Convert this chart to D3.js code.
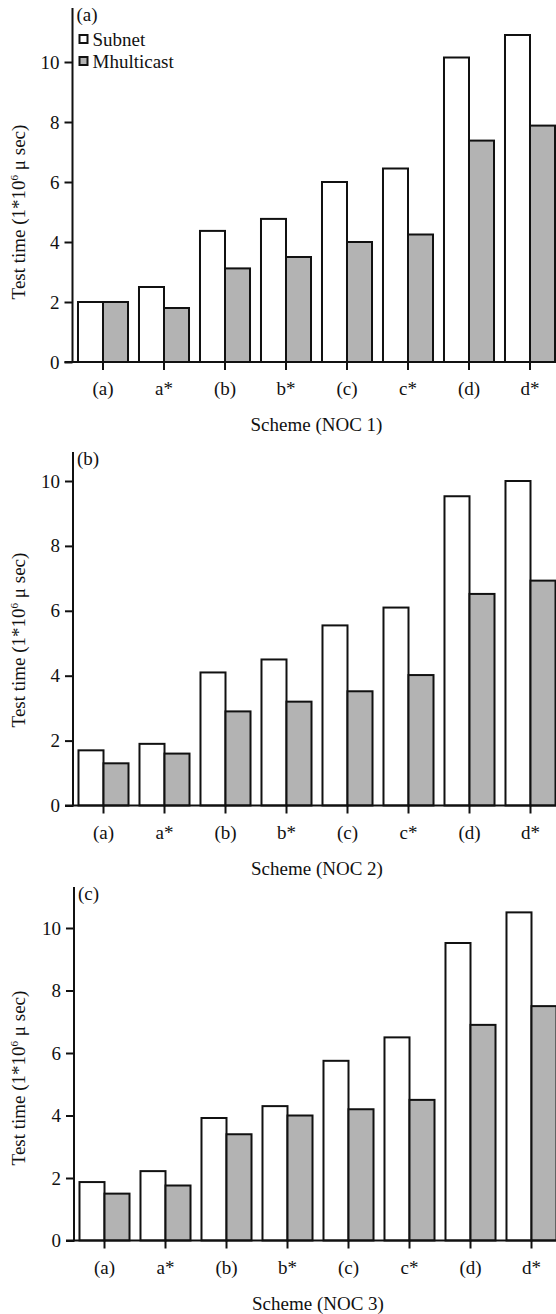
<!DOCTYPE html>
<html>
<head>
<meta charset="utf-8">
<script src="https://cdn.jsdelivr.net/npm/d3@7"></script>
<style>
  body { margin: 0; background: #fff; }
  svg text { font-family: "Liberation Serif", "Times New Roman", serif; fill: #111; }
</style>
</head>
<body>
<svg id="chart" width="556" height="1314"></svg>
<script>
// categories (schemes) and series names
const schemes = ["(a)", "a*", "(b)", "b*", "(c)", "c*", "(d)", "d*"];
const seriesNames = ["Subnet", "Mhulticast"];
const yTicks = [0, 2, 4, 6, 8, 10];

// NOC 1
const subnet1 = [2.0, 2.5, 4.37, 4.77, 6.0, 6.45, 10.15, 10.9];
const multicast1 = [2.0, 1.8, 3.12, 3.5, 4.0, 4.25, 7.38, 7.88];
// NOC 2
const subnet2 = [1.7, 1.9, 4.1, 4.5, 5.55, 6.1, 9.53, 10.0];
const multicast2 = [1.3, 1.6, 2.9, 3.2, 3.52, 4.02, 6.52, 6.93];
// NOC 3
const subnet3 = [1.87, 2.22, 3.92, 4.3, 5.75, 6.5, 9.52, 10.5];
const multicast3 = [1.5, 1.76, 3.4, 4.0, 4.2, 4.5, 6.9, 7.5];

const fills = { "Subnet": "#ffffff", "Mhulticast": "#b3b3b3" };
const svg = d3.select("#chart");

/** draws one bar panel, with its axes and labels */
function drawPanel(cfg) {
    const g = svg.append("g");

    const y = d3.scaleLinear()
        .domain([0, 10])
        .range([cfg.y0, cfg.y10]);

    const x = d3.scaleBand()
        .domain(schemes)
        .range([cfg.axisX, cfg.axisX + 488])
        .paddingInner(0.18)
        .paddingOuter(0.09);

    const xs = d3.scaleBand()
        .domain(seriesNames)
        .range([0, x.bandwidth()]);

    const rows = schemes.map((s, i) => ({
        scheme: s,
        values: [
            { name: "Subnet", v: cfg.subnet[i] },
            { name: "Mhulticast", v: cfg.multicast[i] }
        ]
    }));

    // bars
    g.selectAll("g.grp")
        .data(rows)
        .join("g")
        .attr("class", "grp")
        .attr("transform", d => `translate(${x(d.scheme)},0)`)
        .selectAll("rect")
        .data(d => d.values)
        .join("rect")
            .attr("x", d => xs(d.name))
            .attr("y", d => y(d.v))
            .attr("width", xs.bandwidth())
            .attr("height", d => y(0) - y(d.v))
            .attr("fill", d => fills[d.name])
            .attr("stroke", "#111")
            .attr("stroke-width", 2);

    // y axis
    const yAxis = g.append("g")
        .attr("transform", `translate(${cfg.axisX},0)`)
        .call(d3.axisLeft(y).tickValues(yTicks).tickSize(8).tickPadding(5).tickSizeOuter(0));
    yAxis.select(".domain").remove();
    yAxis.selectAll(".tick line").attr("stroke", "#111").attr("stroke-width", 2);
    yAxis.selectAll(".tick text").attr("font-size", 19).attr("font-family", null);
    g.append("line")
        .attr("x1", cfg.axisX).attr("x2", cfg.axisX)
        .attr("y1", cfg.top).attr("y2", y(0) + 1)
        .attr("stroke", "#111").attr("stroke-width", 2);

    // x axis
    const xAxis = g.append("g")
        .attr("transform", `translate(0,${y(0)})`)
        .call(d3.axisBottom(x).tickSize(8).tickPadding(12).tickSizeOuter(0));
    xAxis.select(".domain").remove();
    xAxis.selectAll(".tick line").attr("stroke", "#111").attr("stroke-width", 2);
    xAxis.selectAll(".tick text").attr("font-size", 19).attr("font-family", null);
    g.append("line")
        .attr("x1", cfg.axisX - 8).attr("x2", 556)
        .attr("y1", y(0)).attr("y2", y(0))
        .attr("stroke", "#111").attr("stroke-width", 2);

    // x title
    g.append("text")
        .attr("x", (x.range()[0] + x.range()[1]) / 2)
        .attr("y", y(0) + 69)
        .attr("text-anchor", "middle")
        .attr("font-size", 19)
        .text(cfg.xTitle);

    // y title
    const yt = g.append("text")
        .attr("transform", `translate(25,${cfg.titleY}) rotate(-90)`)
        .attr("text-anchor", "middle")
        .attr("font-size", 19);
    yt.append("tspan").text("Test time (1*10");
    yt.append("tspan").attr("font-size", 11).attr("dy", -7).text("6");
    yt.append("tspan").attr("dy", 7).text(" \u03bc sec)");

    // panel letter
    g.append("text")
        .attr("x", cfg.axisX + 4)
        .attr("y", cfg.top + 13)
        .attr("font-size", 19)
        .text(cfg.letter);

    if (cfg.legend) {
        const lg = g.append("g")
            .attr("transform", `translate(${cfg.axisX + 7},${cfg.top + 27})`);
        const item = lg.selectAll("g")
            .data(seriesNames)
            .join("g")
            .attr("transform", (d, i) => `translate(0,${i * 22})`);
        item.append("rect")
            .attr("width", 8).attr("height", 8)
            .attr("fill", d => fills[d])
            .attr("stroke", "#111").attr("stroke-width", 2);
        item.append("text")
            .attr("x", 13).attr("y", 11)
            .attr("font-size", 19)
            .text(d => d);
    }
}

drawPanel({ letter: "(a)", subnet: subnet1, multicast: multicast1, xTitle: "Scheme (NOC 1)",
    axisX: 72.5, top: 8, y0: 362, y10: 62, titleY: 212, legend: true });
drawPanel({ letter: "(b)", subnet: subnet2, multicast: multicast2, xTitle: "Scheme (NOC 2)",
    axisX: 73, top: 452, y0: 805.5, y10: 481, titleY: 640, legend: false });
drawPanel({ letter: "(c)", subnet: subnet3, multicast: multicast3, xTitle: "Scheme (NOC 3)",
    axisX: 74, top: 887, y0: 1240.5, y10: 928, titleY: 1078, legend: false });
</script>
</body>
</html>
